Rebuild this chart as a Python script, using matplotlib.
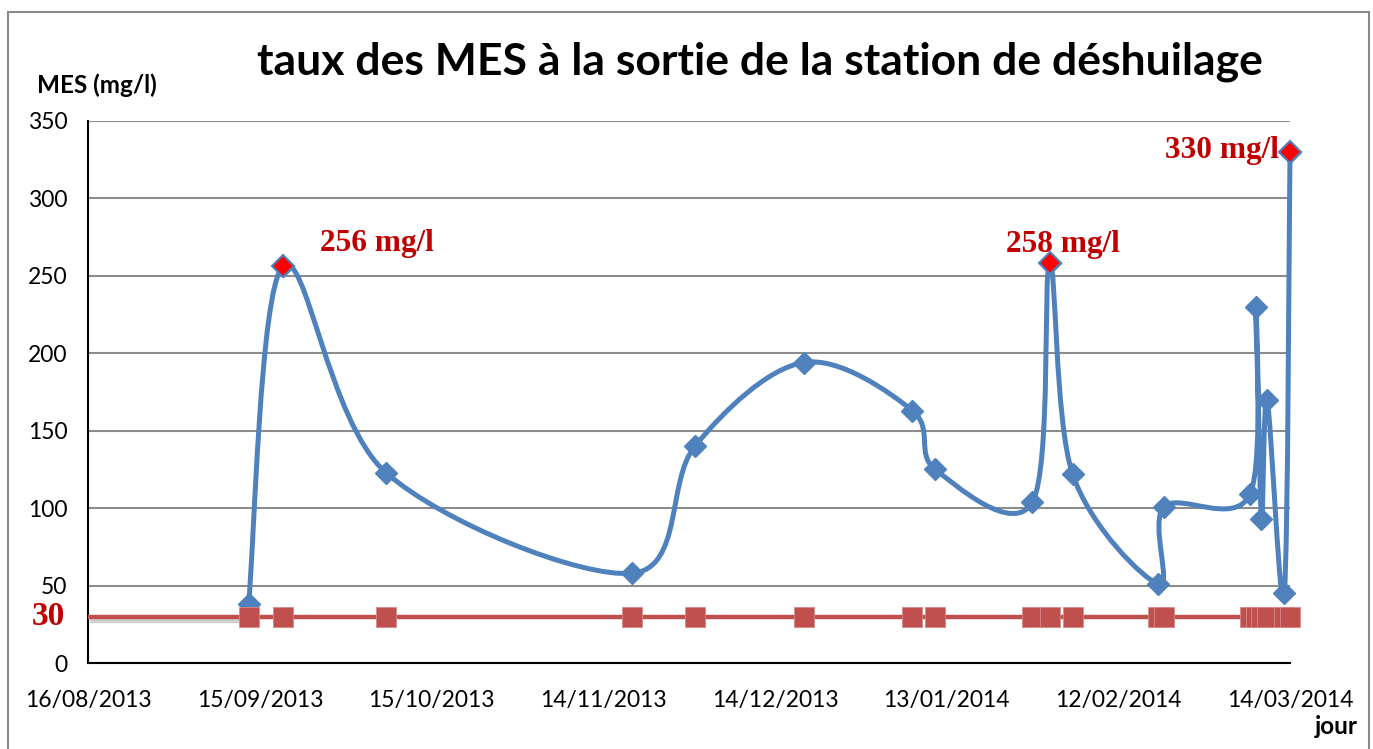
import matplotlib
matplotlib.use('Agg')
import matplotlib.pyplot as plt
import matplotlib.dates as mdates
from matplotlib.path import Path
from matplotlib.patches import PathPatch, Rectangle
import matplotlib.patheffects as pe
import numpy as np
import datetime as dt

# ---------------- data ----------------
dates = ['2013-09-13', '2013-09-19', '2013-10-07', '2013-11-19', '2013-11-30',
         '2013-12-19', '2014-01-07', '2014-01-11', '2014-01-28', '2014-01-31',
         '2014-02-04', '2014-02-19', '2014-02-20', '2014-03-07', '2014-03-08',
         '2014-03-09', '2014-03-10', '2014-03-13', '2014-03-14']
mes = [38, 256, 123, 58, 140, 194, 163, 125, 104, 258, 122, 51, 101, 109,
       230, 93, 170, 45, 330]
norme = [30] * len(dates)
norme_value = 30
peak_idx = [1, 9, 18]
peak_text = ['256 mg/l', '258 mg/l', '330 mg/l']
tick_dates = ['2013-08-16', '2013-09-15', '2013-10-15', '2013-11-14',
              '2013-12-14', '2014-01-13', '2014-02-12', '2014-03-14']
y_ticks = [0, 50, 100, 150, 200, 250, 300, 350]
title = 'taux des MES à la sortie de la station de déshuilage'
ylabel = 'MES (mg/l)'
xlabel = 'jour'

BLUE = '#4F81BD'
RED = '#C0504D'
DARKRED = '#C00000'

sans = ['Lato', 'DejaVu Sans']
serif = ['Liberation Serif', 'DejaVu Serif']
plt.rcParams['font.family'] = sans

W, H = 1373, 749
fig = plt.figure(figsize=(W / 100, H / 100), dpi=100)
ax = fig.add_axes([88.3 / W, 1 - 663.2 / H, (1290 - 88.3) / W, (663.2 - 120.7) / H])

xd = mdates.date2num([dt.datetime.strptime(d, '%Y-%m-%d') for d in dates])
xt = mdates.date2num([dt.datetime.strptime(d, '%Y-%m-%d') for d in tick_dates])
y = np.array(mes, dtype=float)

# smoothed (Excel-like Bezier) path built from the data points
P = np.column_stack([xd, y])
n = len(P)
verts = [P[0]]
codes = [Path.MOVETO]
t = 1 / 6
for i in range(n - 1):
    p_prev = P[i - 1] if i > 0 else P[i]
    p_next2 = P[i + 2] if i + 2 < n else P[i + 1]
    c1 = P[i] + (P[i + 1] - p_prev) * t
    c2 = P[i + 1] - (p_next2 - P[i]) * t
    verts += [c1, c2, P[i + 1]]
    codes += [Path.CURVE4] * 3
patch = PathPatch(Path(verts, codes), facecolor='none', edgecolor=BLUE,
                  lw=3.6, zorder=3, capstyle='round', joinstyle='round')
patch.set_clip_on(False)
ax.add_patch(patch)

ax.plot(xd, y, linestyle='none', marker='D', markersize=11,
        markerfacecolor=BLUE, markeredgecolor=BLUE, zorder=4, clip_on=False)
ax.plot(xd[peak_idx], y[peak_idx], linestyle='none', marker='D', markersize=11,
        markerfacecolor='#FF0000', markeredgecolor=BLUE, markeredgewidth=1.5,
        zorder=5, clip_on=False)

# norme line
ax.plot([xt[0], xd[0]], [norme_value, norme_value], color=RED, lw=3.2, zorder=5,
        solid_capstyle='butt',
        path_effects=[pe.SimpleLineShadow(offset=(1, -3), shadow_color='#777777', alpha=0.35),
                      pe.Normal()])
ax.plot(xd, norme, color=RED, lw=3.2, marker='s', markersize=14,
        markerfacecolor=RED, markeredgecolor='#D98A88', markeredgewidth=0.6,
        zorder=6, clip_on=False)

# annotations
offsets = [(37, 23, 'left'), (13, 19, 'center'), (-11, 1, 'right')]
for k, txt in enumerate(peak_text):
    i = peak_idx[k]
    dx, dy, ha = offsets[k]
    ax.annotate(txt, (xd[i], y[i]), xytext=(dx, dy), textcoords='offset pixels',
                ha=ha, va='center', fontsize=22.5, fontweight='bold',
                color=DARKRED, family=serif, zorder=7)

ax.text(-0.0335, norme_value, '30', transform=ax.get_yaxis_transform(),
        ha='center', va='center', fontsize=24, fontweight='bold',
        color=DARKRED, family=serif)

# axes formatting
ax.set_xlim(xt[0], xt[-1])
ax.set_ylim(0, 350)
ax.set_xticks(xt)
ax.xaxis.set_major_formatter(mdates.DateFormatter('%d/%m/%Y'))
ax.set_yticks(y_ticks)
ax.tick_params(axis='both', length=0, labelsize=16.5)
ax.tick_params(axis='y', pad=15)
ax.tick_params(axis='x', pad=19)
ax.grid(axis='y', color='#8C8C8C', lw=1.5)
ax.set_axisbelow(True)
for s in ['top', 'right']:
    ax.spines[s].set_visible(False)
for s in ['left', 'bottom']:
    ax.spines[s].set_color('black')
    ax.spines[s].set_linewidth(1.5)

fig.text(760 / W, 1 - 62 / H, title, ha='center', va='center',
         fontsize=32, fontweight='bold')
fig.text(37 / W, 1 - 85 / H, ylabel, ha='left', va='center',
         fontsize=17.5, fontweight='bold')
fig.text(1358 / W, 1 - 727 / H, xlabel, ha='right', va='center',
         fontsize=17.5, fontweight='bold')

fig.patches.append(Rectangle((8 / W, -0.01), (1369 - 8) / W, 1 - 12 / H + 0.01,
                             transform=fig.transFigure, fill=False,
                             edgecolor='#8A8A8A', lw=1.5))

fig.savefig('out.png', dpi=100)
